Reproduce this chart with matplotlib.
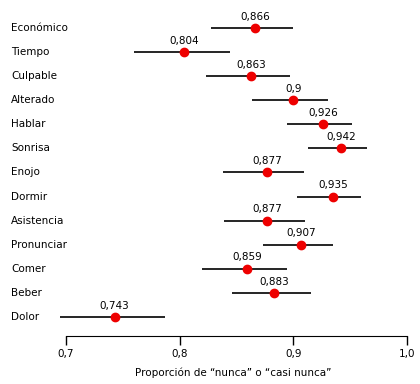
import numpy as np
import matplotlib.pyplot as plt

# categories top to bottom
items = ['Económico', 'Tiempo', 'Culpable', 'Alterado', 'Hablar', 'Sonrisa',
         'Enojo', 'Dormir', 'Asistencia', 'Pronunciar', 'Comer', 'Beber', 'Dolor']
prop = [0.866, 0.804, 0.863, 0.900, 0.926, 0.942,
        0.877, 0.935, 0.877, 0.907, 0.859, 0.883, 0.743]
lo = [0.828, 0.760, 0.823, 0.864, 0.894, 0.913,
      0.838, 0.903, 0.839, 0.873, 0.820, 0.846, 0.695]
hi = [0.900, 0.844, 0.897, 0.930, 0.951, 0.965,
      0.909, 0.959, 0.910, 0.935, 0.894, 0.915, 0.787]
xticks = [0.7, 0.8, 0.9, 1.0]
xtick_labels = ['0,7', '0,8', '0,9', '1,0']

plt.rcParams['font.family'] = 'DejaVu Sans'
fs = 7.5

fig = plt.figure(figsize=(4.2, 3.84), dpi=100)
ax = fig.add_axes([0.131, 0.125, 0.85, 0.836])

ypos = np.arange(len(items))[::-1]

ax.hlines(ypos, lo, hi, color='black', lw=1.2, zorder=2)
ax.plot(prop, ypos, 'o', color='#ee0000', ms=6, zorder=3)

for y, v in zip(ypos, prop):
    lab = f'{v:g}'.replace('.', ',')
    ax.annotate(lab, (v, y), xytext=(0, 6), textcoords='offset points',
                ha='center', va='baseline', fontsize=fs)

for y, name in zip(ypos, items):
    ax.text(-0.123, y, name, transform=ax.get_yaxis_transform(),
            ha='left', va='center', fontsize=fs)

ax.set_xlim(0.6906, 1.0041)
ax.set_ylim(-0.79, 12.54)
ax.set_yticks([])
ax.set_xticks(xticks)
ax.set_xticklabels(xtick_labels, fontsize=fs)
ax.tick_params(axis='x', direction='out', length=6.5, width=1, pad=2.5)

for s in ['left', 'top', 'right']:
    ax.spines[s].set_visible(False)
ax.spines['bottom'].set_bounds(0.7, 1.0)

ax.set_xlabel('Proporción de “nunca” o “casi nunca”', fontsize=fs, labelpad=6.5)

plt.savefig('out.png', dpi=100)
